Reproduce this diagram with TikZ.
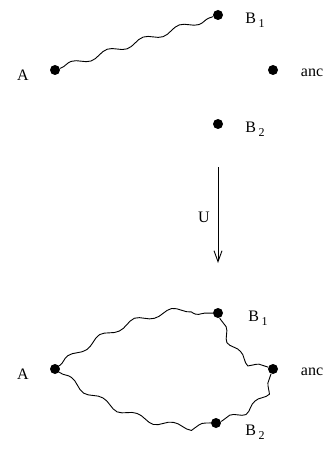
\documentclass[tikz,border=0pt]{standalone}
\usepackage{fontspec}
\setmainfont{Liberation Serif}
\usetikzlibrary{decorations.pathmorphing,arrows.meta}
\begin{document}
\begin{tikzpicture}[x=1pt,y=-1pt,
  dot/.style={circle,fill=black,inner sep=0pt,minimum size=10pt},
  lbl/.style={inner sep=0pt,font=\fontsize{16}{18}\selectfont},
  sub/.style={},
  wavy/.style={decorate,line width=0.9pt,decoration={snake,amplitude=3pt,segment length=38pt,pre length=1pt,post length=1pt}},
  arr/.style={line width=0.9pt,-{Straight Barb[length=11pt,width=8pt]}}]
\useasboundingbox (0,0) rectangle (331,449);
% top
\node[dot] (a1) at (55,70) {};
\node[dot] (b11) at (218,15) {};
\node[dot] (anc1) at (273,70) {};
\node[dot] (b21) at (218,124) {};
\node[lbl] (la1) at (23,75) {A};
\node[lbl] (lb11) at (255,20) {B\,\raisebox{-4pt}{\fontsize{12}{14}\selectfont 1}};
\node[lbl] (lanc1) at (312,73) {anc};
\node[lbl] (lb21) at (255,129) {B\,\raisebox{-4pt}{\fontsize{12}{14}\selectfont 2}};
\draw[wavy] (a1) -- (b11);
% arrow
\coordinate (u1) at (218,167);
\coordinate (u2) at (218,263);
\draw[arr] (u1) -- (u2);
\node[lbl] (lu) at (204,217) {U};
% bottom
\node[dot] (a2) at (55,369) {};
\node[dot] (b12) at (218,313) {};
\node[dot] (anc2) at (273,369) {};
\node[dot] (b22) at (216,423) {};
\node[lbl] (la2) at (23,374) {A};
\node[lbl] (lb12) at (258,318) {B\,\raisebox{-4pt}{\fontsize{12}{14}\selectfont 1}};
\node[lbl] (lanc2) at (312,372) {anc};
\node[lbl] (lb22) at (255,432) {B\,\raisebox{-4pt}{\fontsize{12}{14}\selectfont 2}};
\draw[wavy] (a2) to[bend left=18] (b12);
\draw[wavy] (a2) to[bend right=18] (b22);
\draw[wavy,decoration={segment length=30pt}] (b12) to[bend right=25] (anc2);
\draw[wavy,decoration={segment length=30pt}] (b22) to[bend right=25] (anc2);
\end{tikzpicture}
\end{document}
